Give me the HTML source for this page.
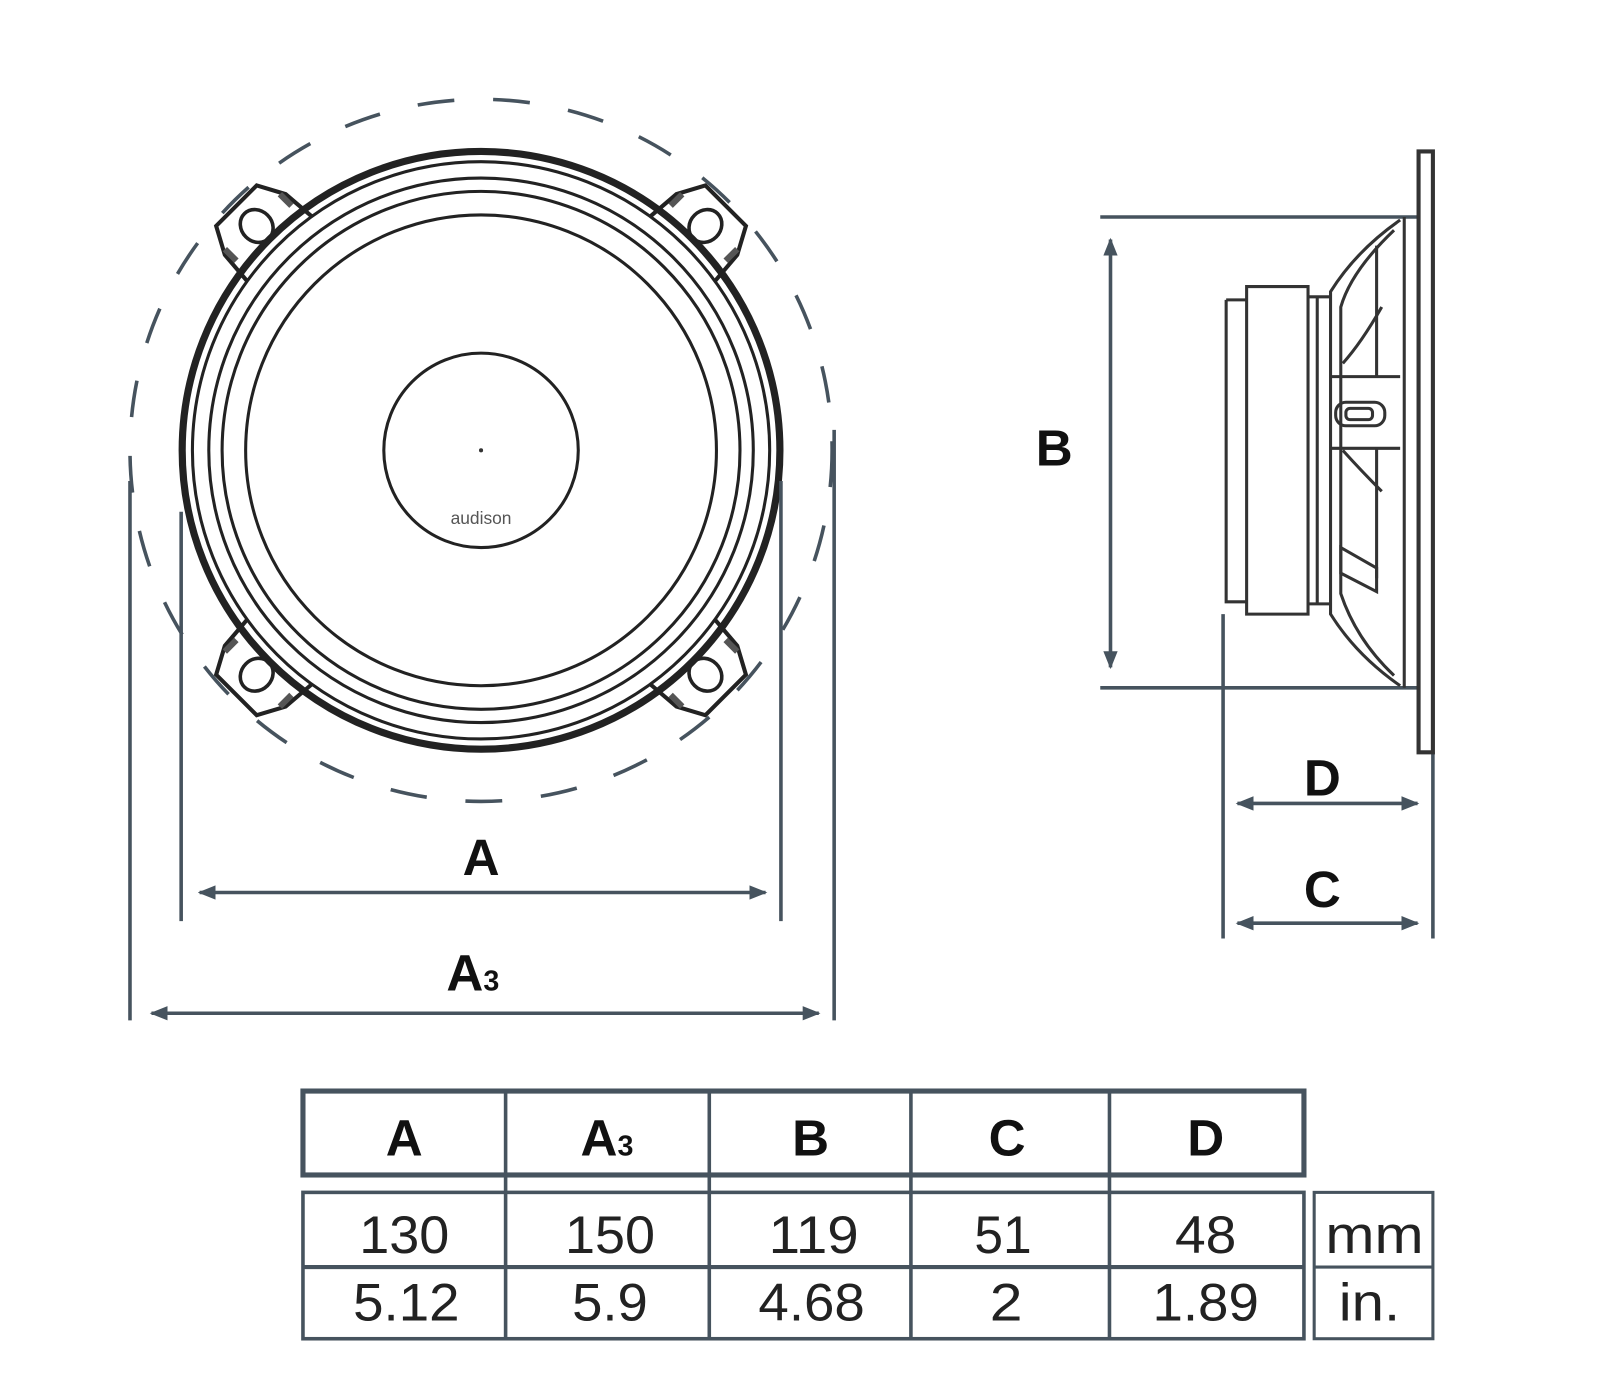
<!DOCTYPE html>
<html><head><meta charset="utf-8"><style>
html,body{margin:0;padding:0;background:#fff;}
svg{display:block;}
text{font-family:"Liberation Sans",sans-serif;}
</style></head><body>
<svg width="1600" height="1396" viewBox="0 0 1600 1396" xmlns="http://www.w3.org/2000/svg">
<defs>
<marker id="ar" viewBox="0 0 10 10" refX="9" refY="5" markerWidth="5" markerHeight="5" orient="auto-start-reverse">
<path d="M0,1 L10,5 L0,9 Z" fill="#46535e"/></marker>
<g id="tab">
<path d="M-46,-262 L-42,-312 L-28,-338 L28,-338 L42,-312 L46,-262" fill="#fff" stroke="#222" stroke-width="4"/>
<path d="M-38,-300 L-38,-316 M38,-300 L38,-316" stroke="#555" stroke-width="6"/>
<ellipse cx="0" cy="-310" rx="15" ry="17" fill="none" stroke="#222" stroke-width="3.5"/>
</g>
</defs>
<g transform="scale(1.0235)">
<circle cx="470" cy="440" r="343" fill="none" stroke="#46535e" stroke-width="3.5" stroke-dasharray="36 38"/>
<g transform="translate(470,440)">
<use href="#tab" transform="rotate(-45)"/>
<use href="#tab" transform="rotate(45)"/>
<use href="#tab" transform="rotate(-135)"/>
<use href="#tab" transform="rotate(135)"/>
</g>
<circle cx="470" cy="440" r="292" fill="none" stroke="#222" stroke-width="7"/>
<circle cx="470" cy="440" r="282" fill="#fff" stroke="#222" stroke-width="3"/>
<circle cx="470" cy="440" r="266" fill="none" stroke="#222" stroke-width="3"/>
<circle cx="470" cy="440" r="253" fill="none" stroke="#222" stroke-width="3"/>
<circle cx="470" cy="440" r="230" fill="none" stroke="#222" stroke-width="3"/>
<circle cx="470" cy="440" r="95" fill="none" stroke="#222" stroke-width="3"/>
<circle cx="470" cy="440" r="2" fill="#333"/>
<text x="470" y="512" font-size="17" fill="#555" text-anchor="middle">audison</text>
<g stroke="#46535e" stroke-width="3.5" fill="none">
<line x1="127" y1="470" x2="127" y2="997"/>
<line x1="815" y1="420" x2="815" y2="997"/>
<line x1="177" y1="500" x2="177" y2="900"/>
<line x1="763" y1="470" x2="763" y2="900"/>
<line x1="195" y1="872" x2="748" y2="872" marker-start="url(#ar)" marker-end="url(#ar)"/>
<line x1="148" y1="990" x2="800" y2="990" marker-start="url(#ar)" marker-end="url(#ar)"/>
</g>
<text x="470" y="855" font-size="50" font-weight="bold" text-anchor="middle" fill="#111">A</text>
<text x="462" y="968" font-size="50" font-weight="bold" text-anchor="middle" fill="#111">A<tspan font-size="28">3</tspan></text>
<g stroke="#46535e" stroke-width="3.5" fill="none">
<line x1="1075" y1="212" x2="1385" y2="212"/>
<line x1="1075" y1="672" x2="1385" y2="672"/>
<line x1="1085" y1="234" x2="1085" y2="652" marker-start="url(#ar)" marker-end="url(#ar)"/>
<line x1="1195" y1="600" x2="1195" y2="917"/>
<line x1="1400" y1="735" x2="1400" y2="917"/>
<line x1="1209" y1="785" x2="1385" y2="785" marker-start="url(#ar)" marker-end="url(#ar)"/>
<line x1="1209" y1="902" x2="1385" y2="902" marker-start="url(#ar)" marker-end="url(#ar)"/>
</g>
<text x="1030" y="455" font-size="50" font-weight="bold" text-anchor="middle" fill="#111">B</text>
<text x="1292" y="777" font-size="50" font-weight="bold" text-anchor="middle" fill="#111">D</text>
<text x="1292" y="886" font-size="50" font-weight="bold" text-anchor="middle" fill="#111">C</text>
<g stroke="#333" stroke-width="3" fill="none">
<path d="M1386,148 L1386,735 L1400,735 L1400,148 Z" stroke-width="4"/>
<path d="M1372,212 L1372,672"/>
<path d="M1368,215 Q1325,245 1300,285 L1300,600 Q1325,640 1368,670"/>
<path d="M1362,225 Q1320,265 1310,300 L1310,580 Q1325,625 1362,660"/>
<path d="M1345,240 L1345,368 M1345,438 L1345,565"/>
<path d="M1350,300 Q1330,335 1312,355 M1312,440 Q1330,460 1350,480"/>
<path d="M1300,368 L1368,368 M1300,438 L1368,438"/>
<rect x="1305" y="393" width="48" height="23" rx="10"/>
<rect x="1315" y="399" width="26" height="11" rx="4"/>
<path d="M1310,535 L1345,555 L1345,578 L1310,560 Z"/>
<path d="M1218,280 L1278,280 L1278,600 L1218,600 Z"/>
<path d="M1198,293 L1218,293 M1198,293 L1198,588 L1218,588"/>
<path d="M1278,290 L1300,290 M1278,590 L1300,590 M1287,290 L1287,590"/>
</g>
<g stroke="#46535e" fill="none">
<rect x="296" y="1066" width="978" height="82" stroke-width="5"/>
<rect x="296" y="1165" width="978" height="143" stroke-width="3.5"/>
<line x1="296" y1="1238" x2="1274" y2="1238" stroke-width="4"/>
<rect x="1284" y="1165" width="116" height="143" stroke-width="3"/>
<line x1="1284" y1="1238" x2="1400" y2="1238" stroke-width="3"/>
<g stroke-width="3.5">
<line x1="494" y1="1066" x2="494" y2="1308"/>
<line x1="693" y1="1066" x2="693" y2="1308"/>
<line x1="890" y1="1066" x2="890" y2="1308"/>
<line x1="1084" y1="1066" x2="1084" y2="1308"/>
</g>
</g>
<g font-size="50" font-weight="bold" text-anchor="middle" fill="#111">
<text x="395" y="1129">A</text>
<text x="593" y="1129">A<tspan font-size="28">3</tspan></text>
<text x="792" y="1129">B</text>
<text x="984" y="1129">C</text>
<text x="1178" y="1129">D</text>
</g>
<g font-size="52" text-anchor="middle" fill="#222">
<text x="395" y="1224" textLength="88" lengthAdjust="spacingAndGlyphs">130</text>
<text x="596" y="1224" textLength="88" lengthAdjust="spacingAndGlyphs">150</text>
<text x="795" y="1224" textLength="88" lengthAdjust="spacingAndGlyphs">119</text>
<text x="980" y="1224" textLength="56" lengthAdjust="spacingAndGlyphs">51</text>
<text x="1178" y="1224" textLength="60" lengthAdjust="spacingAndGlyphs">48</text>
<text x="397" y="1290" textLength="104" lengthAdjust="spacingAndGlyphs">5.12</text>
<text x="596" y="1290" textLength="74" lengthAdjust="spacingAndGlyphs">5.9</text>
<text x="793" y="1290" textLength="104" lengthAdjust="spacingAndGlyphs">4.68</text>
<text x="983" y="1290" textLength="32" lengthAdjust="spacingAndGlyphs">2</text>
<text x="1178" y="1290" textLength="104" lengthAdjust="spacingAndGlyphs">1.89</text>
<text x="1343" y="1224" textLength="96" lengthAdjust="spacingAndGlyphs">mm</text>
<text x="1338" y="1290" textLength="60" lengthAdjust="spacingAndGlyphs">in.</text>
</g>
</g>
</svg>
</body></html>
